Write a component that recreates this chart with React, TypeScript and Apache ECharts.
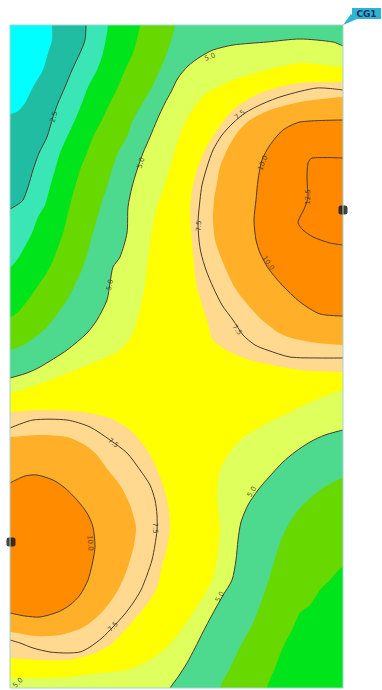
import React, { useEffect, useRef } from "react";
import * as echarts from "echarts";

// Slab extent (plot units): x to the right, y downwards from the top edge
const SLAB_W = 333;
const SLAB_H = 663;

// Band colours, lowest value to highest
const BAND_NAMES = ["<1.25", "1.25-2.5", "2.5-3.13", "3.13-3.75", "3.75-4.38", "4.38-5.0", "5.0-6.25", "6.25-7.5", "7.5-8.75", "8.75-10.0", "10.0-12.5", ">12.5"];
const BAND_COLORS = ["#00FFFF", "#21BDA3", "#3BE6B6", "#00E41C", "#68D900", "#4DDA8E", "#DEFF5C", "#FFFF00", "#FFD98F", "#FFB028", "#FF8C00", "#FF8800"];

// ---- valley, top-left (edges from top/right edge to left edge) ----
const TL_EDGE_125 = [[42, 0], [42, 15], [38, 28], [33, 45], [23, 62], [15, 78], [8, 86], [0, 89]];
const TL_LINE_25 = [[76, 0], [75, 15], [70, 28], [62, 45], [55, 62], [48, 78], [43, 92], [37, 112], [29, 128], [23, 145], [18, 162], [13, 175], [7, 180], [0, 184]];
const TL_EDGE_313 = [[98, 0], [93, 28], [87, 45], [78, 62], [72, 78], [65, 95], [57, 112], [50, 128], [45, 145], [40, 162], [35, 180], [28, 192], [22, 208], [13, 225], [7, 235], [0, 242]];
const TL_EDGE_375 = [[130, 0], [123, 28], [115, 45], [108, 62], [100, 78], [92, 95], [83, 112], [77, 128], [70, 145], [65, 162], [60, 180], [53, 208], [40, 242], [23, 268], [10, 285], [0, 292]];
const TL_EDGE_438 = [[165, 0], [157, 28], [150, 45], [142, 62], [133, 78], [123, 95], [117, 112], [108, 128], [102, 145], [97, 162], [91, 180], [83, 208], [73, 242], [57, 275], [37, 302], [17, 318], [0, 325]];
const TL_LINE_50 = [[333, 21], [323, 17], [290, 14], [257, 17], [223, 20], [203, 25], [190, 32], [178, 41], [168, 53], [161, 67], [155, 78], [147, 95], [140, 112], [133, 128], [127, 145], [122, 162], [118, 182], [117, 208], [110, 232], [103, 242], [100, 258], [97, 275], [87, 295], [77, 308], [57, 325], [30, 342], [17, 348], [0, 353]];
const TL_EDGE_625 = [[333, 42], [290, 38], [257, 45], [223, 55], [197, 68], [182, 85], [172, 105], [165, 125], [159, 145], [153, 165], [147, 182], [142, 205], [138, 235], [135, 260], [131, 280], [123, 308], [110, 325], [90, 335], [73, 342], [40, 355], [0, 368]];

// ---- valley, bottom-right ----
const BR_EDGE_625 = [[333, 365], [310, 373], [290, 382], [270, 392], [257, 398], [240, 408], [230, 415], [218, 430], [210, 445], [207, 465], [208, 485], [210, 502], [208, 525], [205, 545], [200, 560], [183, 588], [170, 607], [157, 622], [140, 635], [117, 645], [90, 648], [57, 652], [30, 653], [0, 653]];
const BR_LINE_50 = [[333, 405], [315, 410], [300, 417], [285, 427], [273, 437], [260, 451], [248, 465], [238, 480], [231, 497], [228, 515], [226, 535], [222, 555], [212, 572], [202, 590], [193, 607], [185, 623], [177, 638], [168, 652], [160, 663]];
const BR_EDGE_438 = [[333, 453], [310, 465], [290, 483], [278, 500], [270, 518], [263, 540], [257, 560], [250, 580], [242, 600], [230, 622], [220, 643], [210, 663]];
const BR_EDGE_375 = [[333, 542], [320, 555], [310, 565], [300, 580], [290, 588], [282, 605], [273, 622], [265, 643], [257, 663]];

// ---- peak, top-right (right edge to right edge) ----
const TR_EDGE_75 = [[333, 57], [290, 58], [250, 68], [223, 85], [207, 105], [195, 125], [187, 145], [182, 165], [180, 185], [181, 205], [183, 228], [187, 262], [197, 295], [203, 315], [220, 327], [240, 335], [290, 345], [333, 347]];
const TR_LINE_75 = [[333, 65], [307, 63], [273, 71], [252, 79], [235, 88], [223, 98], [212, 110], [203, 125], [197, 142], [192, 160], [190, 175], [188, 197], [189, 215], [191, 228], [196, 245], [203, 262], [212, 280], [223, 295], [233, 310], [245, 320], [257, 325], [280, 332], [310, 333], [333, 333]];
const TR_EDGE_875 = [[333, 72], [290, 77], [260, 85], [240, 95], [227, 108], [217, 125], [210, 142], [207, 158], [204, 175], [203, 195], [205, 215], [210, 230], [217, 247], [225, 263], [238, 280], [252, 295], [273, 310], [300, 317], [333, 320]];
const TR_LINE_100 = [[333, 95], [290, 97], [273, 105], [260, 120], [252, 135], [248, 155], [246, 175], [244, 195], [246, 215], [250, 228], [258, 243], [272, 260], [290, 277], [310, 289], [333, 291]];
const TR_LINE_125 = [[333, 133], [302, 133], [298, 138], [297, 155], [298, 172], [295, 182], [290, 192], [288, 198], [293, 205], [303, 212], [320, 218], [333, 220]];

// ---- peak, bottom-left (left edge to left edge) ----
const BL_EDGE_75 = [[0, 387], [30, 385], [73, 387], [100, 393], [120, 405], [135, 422], [145, 440], [153, 460], [158, 480], [160, 502], [157, 523], [152, 540], [148, 560], [140, 575], [130, 588], [115, 605], [100, 620], [80, 630], [57, 635], [30, 635], [0, 633]];
const BL_LINE_75 = [[0, 403], [23, 395], [57, 395], [80, 402], [100, 415], [117, 428], [130, 445], [140, 460], [145, 475], [147, 490], [147, 505], [145, 520], [142, 535], [137, 550], [131, 565], [123, 578], [114, 590], [103, 602], [92, 613], [80, 622], [70, 627], [57, 628], [40, 627], [23, 623], [10, 618], [0, 615]];
const BL_EDGE_875 = [[0, 412], [30, 410], [57, 412], [75, 420], [87, 430], [98, 445], [110, 460], [120, 480], [126, 502], [124, 520], [120, 535], [115, 550], [108, 565], [98, 580], [87, 592], [72, 603], [50, 610], [25, 611], [0, 607]];
const BL_LINE_100 = [[0, 458], [15, 451], [27, 450], [43, 455], [55, 463], [67, 475], [77, 488], [83, 502], [85, 522], [82, 540], [78, 555], [70, 570], [60, 580], [48, 587], [30, 592], [15, 591], [0, 588]];

// Contour line labels: [x, y, text, rotation]
const LABELS: [number, number, string, number][] = [
  [200, 32, "5.0", 22],
  [44, 92, "2.5", 72],
  [131, 138, "5.0", 72],
  [230, 90, "7.5", 40],
  [253, 138, "10.0", 68],
  [298, 172, "12.5", 88],
  [189, 201, "7.5", 88],
  [258, 238, "10.0", -55],
  [100, 260, "5.0", 78],
  [227, 305, "7.5", -52],
  [103, 418, "7.5", -38],
  [242, 467, "5.0", 58],
  [80, 518, "10.0", -85],
  [145, 503, "7.5", -88],
  [210, 572, "5.0", 60],
  [103, 602, "7.5", 45],
  [8, 658, "5.0", 45],
];

// Support markers
const SUPPORTS = [[333, 185], [1, 517]];

const E = 30;
const CORNERS: Record<string, number[]> = {
  TL: [-E, -E], TR: [SLAB_W + E, -E], BL: [-E, SLAB_H + E], BR: [SLAB_W + E, SLAB_H + E],
};
function ext(p: number[]) {
  const [x, y] = p;
  if (x <= 0) return [-E, y];
  if (x >= SLAB_W) return [SLAB_W + E, y];
  if (y <= 0) return [x, -E];
  if (y >= SLAB_H) return [x, SLAB_H + E];
  return p;
}
function region(edge: number[][], corners: string[]) {
  return [ext(edge[0]), ...edge, ext(edge[edge.length - 1]), ...corners.map((c) => CORNERS[c])];
}

const BANDS = [
  { c: 6, poly: region(TL_EDGE_625, ["TL", "TR"]) },
  { c: 5, poly: region(TL_LINE_50, ["TL", "TR"]) },
  { c: 4, poly: region(TL_EDGE_438, ["TL"]) },
  { c: 3, poly: region(TL_EDGE_375, ["TL"]) },
  { c: 2, poly: region(TL_EDGE_313, ["TL"]) },
  { c: 1, poly: region(TL_LINE_25, ["TL"]) },
  { c: 0, poly: region(TL_EDGE_125, ["TL"]) },
  { c: 6, poly: region(BR_EDGE_625, ["BL", "BR"]) },
  { c: 5, poly: region(BR_LINE_50, ["BR"]) },
  { c: 4, poly: region(BR_EDGE_438, ["BR"]) },
  { c: 3, poly: region(BR_EDGE_375, ["BR"]) },
  { c: 8, poly: region(TR_EDGE_75, []) },
  { c: 9, poly: region(TR_EDGE_875, []) },
  { c: 10, poly: region(TR_LINE_100, []) },
  { c: 11, poly: region(TR_LINE_125, []) },
  { c: 8, poly: region(BL_EDGE_75, []) },
  { c: 9, poly: region(BL_EDGE_875, []) },
  { c: 10, poly: region(BL_LINE_100, []) },
];

const CONTOURS = [
  { level: "2.5", pts: TL_LINE_25 },
  { level: "5.0", pts: TL_LINE_50 },
  { level: "5.0", pts: BR_LINE_50 },
  { level: "7.5", pts: TR_LINE_75 },
  { level: "7.5", pts: BL_LINE_75 },
  { level: "10.0", pts: TR_LINE_100 },
  { level: "10.0", pts: BL_LINE_100 },
  { level: "12.5", pts: TR_LINE_125 },
];

const SMOOTH = 0.25;

export default function App() {
  const ref = useRef<HTMLDivElement>(null);
  useEffect(() => {
    if (!ref.current) return;
    const chart = echarts.init(ref.current, null, { renderer: "svg" });
    const gl = 10, gt = 25, gw = 333, gh = 663;
    chart.setOption({
      animation: false,
      backgroundColor: "#ffffff",
      grid: { left: gl, top: gt, width: gw, height: gh, show: true, backgroundColor: BAND_COLORS[7], borderWidth: 0 },
      xAxis: { type: "value", min: 0, max: SLAB_W, show: false },
      yAxis: { type: "value", min: 0, max: SLAB_H, inverse: true, show: false },
      series: [
        {
          type: "custom",
          name: "bands",
          coordinateSystem: "cartesian2d",
          clip: true,
          silent: true,
          data: BANDS.map((b, i) => [0, 0, i]),
          encode: { x: 0, y: 1 },
          renderItem: (params: any, api: any) => {
            const b = BANDS[params.dataIndex];
            return {
              type: "polygon",
              shape: { points: b.poly.map((p) => api.coord(p)), smooth: SMOOTH },
              style: { fill: BAND_COLORS[b.c], stroke: null },
            };
          },
        },
        {
          type: "custom",
          name: "contours",
          coordinateSystem: "cartesian2d",
          clip: true,
          silent: true,
          data: CONTOURS.map((c, i) => [0, 0, i]),
          encode: { x: 0, y: 1 },
          renderItem: (params: any, api: any) => {
            const c = CONTOURS[params.dataIndex];
            return {
              type: "polyline",
              shape: { points: c.pts.map((p) => api.coord(p)), smooth: SMOOTH },
              style: { fill: null, stroke: "#4a3c2c", lineWidth: 1 },
            };
          },
        },
        {
          type: "scatter",
          name: "labels",
          silent: true,
          symbolSize: 1,
          itemStyle: { color: "rgba(0,0,0,0)" },
          data: LABELS.map(([x, y, t, r]) => ({
            value: [x, y],
            name: t,
            label: { rotate: r },
          })),
          label: {
            show: true,
            position: "inside",
            formatter: "{b}",
            fontSize: 7,
            fontFamily: "DejaVu Sans",
            color: "#2a2a2a",
          },
          labelLayout: { hideOverlap: false },
        },
        {
          type: "scatter",
          name: "supports",
          silent: true,
          clip: false,
          symbol: "roundRect",
          symbolSize: [9, 9],
          itemStyle: { color: "#111111" },
          data: SUPPORTS,
          z: 10,
        },
      ],
      graphic: [
        {
          type: "rect",
          shape: { x: gl, y: gt, width: gw, height: gh },
          style: { fill: null, stroke: "#9fd6d2", lineWidth: 1 },
          z: 100,
          silent: true,
        },
        {
          type: "polygon",
          shape: { points: [[351, 14], [357, 19], [343, 25]] },
          style: { fill: "#2db4d0" },
          z: 100,
        },
        {
          type: "rect",
          shape: { x: 352, y: 8, width: 29, height: 11 },
          style: { fill: "#2db4d0" },
          z: 100,
        },
        {
          type: "text",
          x: 366.5,
          y: 13.8,
          style: {
            text: "CG1",
            fill: "#1d2c60",
            font: 'bold 9px "DejaVu Sans"',
            align: "center",
            verticalAlign: "middle",
          },
          z: 101,
        },
      ],
    });
    return () => chart.dispose();
  }, []);
  return <div ref={ref} style={{ position: "fixed", left: 0, top: 0, width: 382, height: 690 }} />;
}
